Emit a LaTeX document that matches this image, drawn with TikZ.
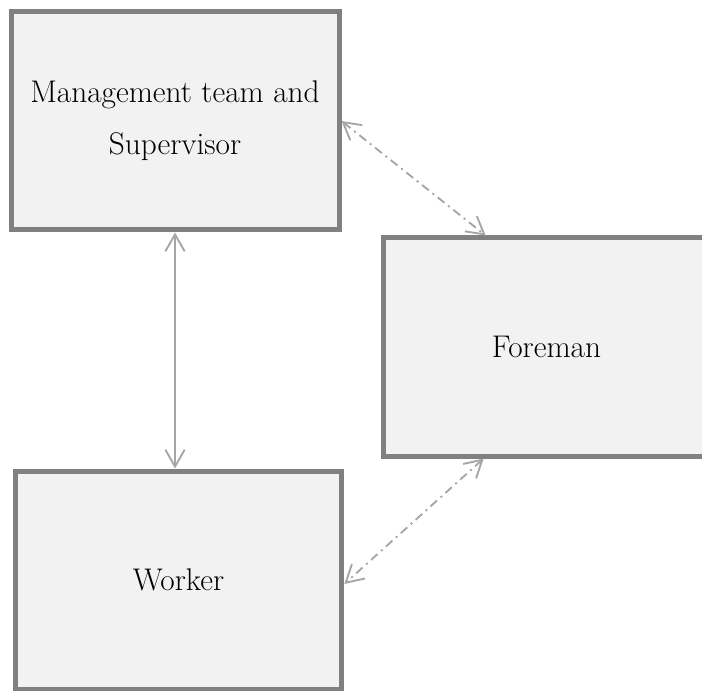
\documentclass[tikz,border=0pt]{standalone}
\usepackage{tikz}
\usetikzlibrary{arrows.meta,calc}
\definecolor{boxline}{HTML}{808080}
\definecolor{boxfill}{HTML}{F2F2F2}
\definecolor{linkgray}{HTML}{A6A6A6}
\begin{document}
\begin{tikzpicture}[x=0.75pt, y=-0.75pt,
    unitbox/.style={draw=boxline, fill=boxfill, line width=3.75pt, rectangle,
        inner sep=0pt, minimum height=163.5pt, align=center,
        font=\fontsize{23.5}{39}\selectfont},
    link/.style={draw=linkgray, line width=1.4pt,
        {Straight Barb[length=12.75pt,width=14.5pt]}-{Straight Barb[length=12.75pt,width=14.5pt]}},
    dotlink/.style={link, dash pattern=on 6.5pt off 3.5pt on 1.5pt off 3.5pt}]
        \useasboundingbox (0, 0) rectangle (702, 691);
        \clip (0, 0) rectangle (702, 691);
        % boxes
        \node[unitbox, minimum width=246pt] (mgmt) at (175, 121) {Management team and\\Supervisor};
        \node[unitbox, minimum width=245pt] (foreman) at (546.5, 347) {Foreman};
        \node[unitbox, minimum width=245pt] (worker) at (178.5, 580) {Worker};

        % links
        \draw[link] (mgmt.south) -- (mgmt.south |- worker.north);
        \draw[dotlink] (mgmt.east) -- ($(foreman.north west)+(105, 0)$);
        \draw[dotlink] ($(foreman.south west)+(103, 0)$) -- ($(worker.east)+(0, 4)$);
\end{tikzpicture}
\end{document}
